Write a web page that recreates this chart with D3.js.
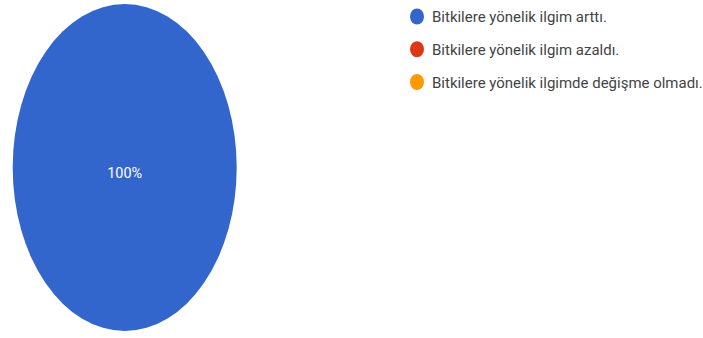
<!DOCTYPE html>
<html>
<head>
<meta charset="utf-8">
<script src="https://cdn.jsdelivr.net/npm/d3@7"></script>
<style>
  html, body { margin: 0; padding: 0; background: #ffffff; }
  svg { display: block; }
  text { font-family: Roboto, "Liberation Sans", Arial, sans-serif; }
</style>
</head>
<body>
<svg id="chart" width="703" height="338"></svg>
<script>
// Survey answers and their share of responses (percent)
const categories = [
  "Bitkilere yönelik ilgim arttı.",
  "Bitkilere yönelik ilgim azaldı.",
  "Bitkilere yönelik ilgimde değişme olmadı."
];
const values = [100, 0, 0];
const colors = ["#3366cc", "#dc3912", "#ff9900"];

const width = 703, height = 338;
const svg = d3.select("#chart");

// Pie: drawn as a circle, then stretched into the tall oval it is shown as
const cx = 124.7, cy = 167.5, rx = 112, ry = 163.5;
const pie = d3.pie().sort(null).value(d => d.value);
const arc = d3.arc().innerRadius(0).outerRadius(ry);
const data = categories.map((c, i) => ({ name: c, value: values[i], color: colors[i] }));
const arcs = pie(data);
const total = d3.sum(values);

const pieG = svg.append("g")
  .attr("transform", `translate(${cx},${cy}) scale(${rx / ry},1)`);

pieG.selectAll("path")
  .data(arcs.filter(a => a.data.value > 0))
  .join("path")
  .attr("d", arc)
  .attr("fill", d => d.data.color);

// Percentage labels (placed at centroid; a full slice sits at the center)
const fmt = d3.format(".0%");
const isFull = d => d.endAngle - d.startAngle >= 2 * Math.PI - 1e-6;
svg.append("g")
  .selectAll("text")
  .data(arcs.filter(a => a.data.value > 0))
  .join("text")
  .attr("x", d => isFull(d) ? cx : cx + arc.centroid(d)[0] * rx / ry)
  .attr("y", d => (isFull(d) ? cy : cy + arc.centroid(d)[1]) + 10)
  .attr("text-anchor", "middle")
  .attr("font-size", 14)
  .attr("fill", "#ffffff")
  .attr("textLength", 35)
  .attr("lengthAdjust", "spacingAndGlyphs")
  .text(d => fmt(d.data.value / total));

// Legend
const legendY = d3.scalePoint().domain(categories).range([16.5, 82]);
const legend = svg.append("g");
const rows = legend.selectAll("g")
  .data(data)
  .join("g")
  .attr("transform", d => `translate(0,${legendY(d.name)})`);

rows.append("ellipse")
  .attr("cx", 417)
  .attr("cy", 0)
  .attr("rx", 7)
  .attr("ry", 8)
  .attr("fill", d => d.color);

const labels = rows.append("text")
  .attr("x", 0)
  .attr("y", 5.5)
  .attr("font-size", 15)
  .attr("fill", "#444444")
  .text(d => d.name);

// Squeeze the legend text horizontally so the first line spans ~175px
const natural = labels.nodes()[0].getComputedTextLength();
const sx = 175 / natural;
labels.attr("transform", `translate(432,0) scale(${sx},1)`);
</script>
</body>
</html>
